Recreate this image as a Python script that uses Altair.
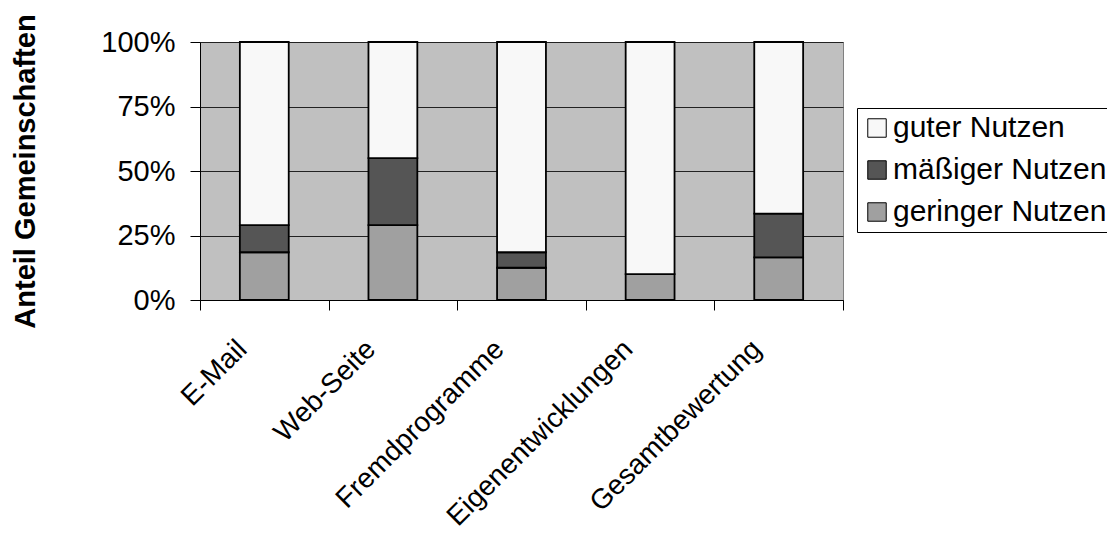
import altair as alt
import pandas as pd

categories = ["E-Mail", "Web-Seite", "Fremdprogramme", "Eigenentwicklungen", "Gesamtbewertung"]
levels = ["guter Nutzen", "mäßiger Nutzen", "geringer Nutzen"]
stack_rank = {"geringer Nutzen": 0, "mäßiger Nutzen": 1, "guter Nutzen": 2}
geringer = [18.5, 29.0, 12.5, 10.0, 16.5]
maessig = [10.5, 26.0, 6.0, 0.0, 17.0]
guter = [71.0, 45.0, 81.5, 90.0, 66.5]
colors = ["#f8f8f8", "#555555", "#a0a0a0"]

rows = []
for i, c in enumerate(categories):
    for lev, vals in (("geringer Nutzen", geringer), ("mäßiger Nutzen", maessig), ("guter Nutzen", guter)):
        rows.append({"Kategorie": c, "Nutzen": lev, "Anteil": vals[i] / 100.0, "rank": stack_rank[lev]})
df = pd.DataFrame(rows)

FONT = "Liberation Sans"

bars = alt.Chart(df).mark_bar(
    width=alt.RelativeBandSize(0.38), stroke="black", strokeWidth=1.8
).encode(
    x=alt.X("Kategorie:N", sort=categories,
            scale=alt.Scale(paddingInner=0, paddingOuter=0),
            axis=alt.Axis(title=None, labelAngle=-45, tickBand="extent", grid=False,
                          labelFontSize=28, labelFont=FONT, labelColor="black",
                          domainColor="black", tickColor="black", tickSize=10,
                          labelOffset=-32, labelPadding=25, labelAlign="right",
                          labelBaseline="top", labelLimit=600)),
    y=alt.Y("Anteil:Q", stack="zero",
            scale=alt.Scale(domain=[0, 1], nice=False),
            axis=alt.Axis(title="Anteil Gemeinschaften", format=".0%", values=[0, 0.25, 0.5, 0.75, 1],
                          grid=True, gridColor="#222222", gridWidth=1,
                          labelFontSize=29, labelFont=FONT, labelColor="black", labelPadding=15,
                          domainColor="black", tickColor="black", tickSize=10,
                          titleFontSize=29, titleFont=FONT, titleFontWeight="bold",
                          titleColor="black", titlePadding=60)),
    color=alt.Color("Nutzen:N", scale=alt.Scale(domain=levels, range=colors),
                    legend=alt.Legend(title=None, orient="none", legendX=657, legendY=66,
                                      symbolType="square", symbolSize=340,
                                      symbolStrokeColor="black", symbolStrokeWidth=1,
                                      labelFontSize=30, labelFont=FONT, labelColor="black",
                                      labelOffset=1, rowPadding=12, padding=5,
                                      strokeColor="black", fillColor="white",
                                      labelLimit=400)),
    order=alt.Order("rank:Q", sort="ascending"),
)

chart = bars.properties(
    width=643, height=258,
    autosize=alt.AutoSizeParams(type="none"),
    padding={"left": 192, "top": 34, "right": 264, "bottom": 235},
    background="white",
).configure_view(fill="#c0c0c0", stroke="#808080", strokeWidth=1)

chart.save("out.html", embed_options={"renderer": "svg", "actions": False})
